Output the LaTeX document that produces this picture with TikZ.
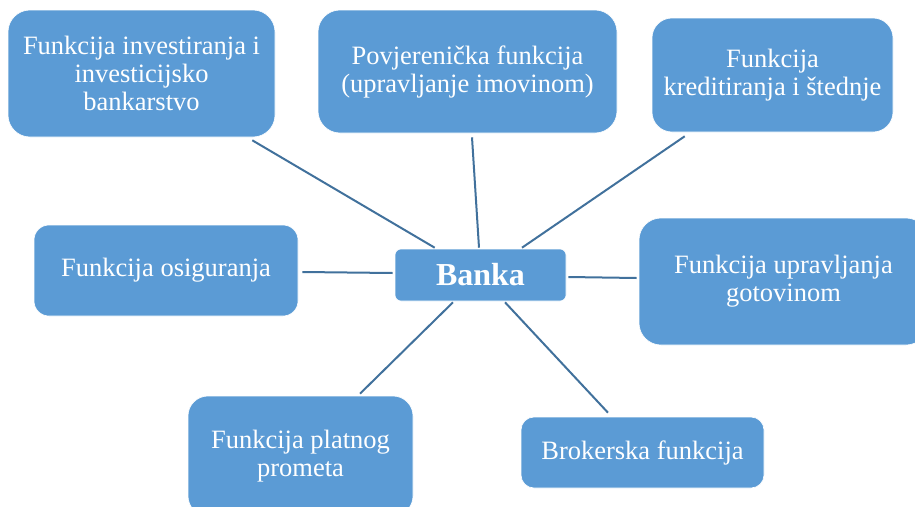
\documentclass[tikz,border=0pt]{standalone}
\usepackage{fontspec}
\setmainfont{Liberation Serif}
\definecolor{boxblue}{HTML}{5B9BD5}
\definecolor{linkblue}{HTML}{41719C}
\begin{document}
\begin{tikzpicture}[x=1pt,y=-1pt,
  fbox/.style={draw=white, line width=0.6pt, fill=boxblue, text=white, align=center,
    inner sep=0pt, font=\fontsize{26.5}{28}\selectfont},
  link/.style={draw=linkblue, line width=2pt}]
\useasboundingbox (0,0) rectangle (915,506);
\node[fbox, minimum width=267pt, minimum height=127pt, rounded corners=22pt] (b1) at (141.5,73.5)
  {Funkcija investiranja i\\investicijsko\\bankarstvo};
\node[fbox, minimum width=299pt, minimum height=123pt, rounded corners=22pt] (b2) at (467.5,71.5)
  {Povjerenička funkcija\\(upravljanje imovinom)};
\node[fbox, minimum width=241pt, minimum height=114pt, rounded corners=20pt] (b3) at (772.5,75)
  {Funkcija\\kreditiranja i štednje};
\node[fbox, minimum width=171pt, minimum height=52pt, rounded corners=6pt,
  font=\fontsize{32}{36}\selectfont\bfseries] (c) at (480.5,275) {Banka};
\node[fbox, minimum width=264pt, minimum height=91pt, rounded corners=15pt] (b5) at (166,270.5)
  {Funkcija osiguranja};
\node[fbox, minimum width=289pt, minimum height=127pt, rounded corners=22pt] (b6) at (783.5,281.5)
  {Funkcija upravljanja\\gotovinom};
\node[fbox, minimum width=225pt, minimum height=120pt, rounded corners=20pt] (b7) at (300.5,456)
  {Funkcija platnog\\prometa};
\node[fbox, minimum width=243pt, minimum height=71pt, rounded corners=13pt] (b8) at (642.5,452.5)
  {Brokerska funkcija};
\draw[link] ([shift={(-23,3)}]b1.south east) -- ([shift={(40,-1)}]c.north west);
\draw[link] ([shift={(4.5,4)}]b2.south) -- ([shift={(-1.5,-1)}]c.north);
\draw[link] ([shift={(33,4)}]b3.south west) -- ([shift={(41.5,-1)}]c.north);
\draw[link] ([shift={(4,1.5)}]b5.east) -- ([shift={(-2,-2)}]c.west);
\draw[link] ([shift={(2,2)}]c.east) -- ([shift={(-2,-3.5)}]b6.west);
\draw[link] ([shift={(-27.5,1)}]c.south) -- ([shift={(59.5,-2)}]b7.north);
\draw[link] ([shift={(24.5,1)}]c.south) -- ([shift={(-34.5,-4)}]b8.north);
\end{tikzpicture}
\end{document}
